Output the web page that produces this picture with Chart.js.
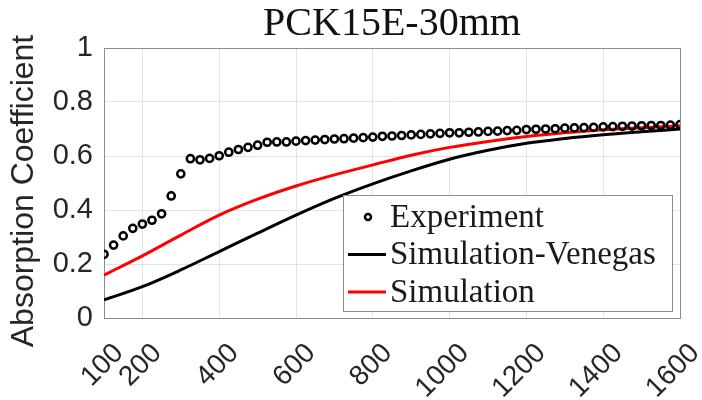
<!DOCTYPE html>
<html>
<head>
<meta charset="utf-8">
<script src="https://cdn.jsdelivr.net/npm/chart.js@4.4.0/dist/chart.umd.min.js"></script>
<style>
  html, body { margin: 0; padding: 0; background: #fff; }
  #wrap { width: 702px; height: 400px; }
</style>
</head>
<body>
<div id="wrap"><canvas id="abs-chart" width="702" height="400"></canvas></div>
<script>
// frequency (Hz) and absorption values
const freqExp = [100, 125, 150, 175, 200, 225, 250, 275, 300, 325, 350, 375, 400, 425, 450, 475,
  500, 525, 550, 575, 600, 625, 650, 675, 700, 725, 750, 775, 800, 825, 850, 875, 900, 925, 950, 975,
  1000, 1025, 1050, 1075, 1100, 1125, 1150, 1175, 1200, 1225, 1250, 1275, 1300, 1325, 1350, 1375,
  1400, 1425, 1450, 1475, 1500, 1525, 1550, 1575, 1600];
const absExp = [0.236, 0.270, 0.304, 0.332, 0.348, 0.362, 0.386, 0.452, 0.534, 0.590, 0.586, 0.591, 0.601, 0.614, 0.624, 0.632,
  0.640, 0.651, 0.652, 0.652, 0.655, 0.657, 0.659, 0.661, 0.663, 0.664, 0.666, 0.668, 0.670, 0.673, 0.674, 0.676, 0.678, 0.680, 0.682, 0.684,
  0.686, 0.686, 0.688, 0.689, 0.691, 0.692, 0.694, 0.695, 0.698, 0.699, 0.700, 0.701, 0.703, 0.704, 0.705, 0.706,
  0.708, 0.709, 0.710, 0.711, 0.712, 0.713, 0.713, 0.714, 0.716];

const freqSim = [100, 200, 300, 400, 500, 600, 700, 800, 900, 1000, 1100, 1200, 1300, 1400, 1500, 1600];
const absVenegas = [0.067, 0.116, 0.178, 0.246, 0.314, 0.381, 0.443, 0.497, 0.545, 0.588, 0.621, 0.647, 0.665, 0.679, 0.690, 0.700];
const absSim = [0.159, 0.230, 0.307, 0.381, 0.440, 0.489, 0.530, 0.567, 0.603, 0.632, 0.654, 0.672, 0.686, 0.697, 0.705, 0.712];

const xTicks = [100, 200, 400, 600, 800, 1000, 1200, 1400, 1600];
const yTicks = [0, 0.2, 0.4, 0.6, 0.8, 1];

const legendItems = [
  { label: 'Experiment', kind: 'circle', color: '#000' },
  { label: 'Simulation-Venegas', kind: 'line', color: '#000' },
  { label: 'Simulation', kind: 'line', color: '#ff0000' }
];
const yTitle = 'Absorption Coefficient';

function toPoints(xs, ys) {
  return xs.map(function (x, i) { return { x: x, y: ys[i] }; });
}

// axes box (top + right edges) like matlab
const boxPlugin = {
  id: 'axesBox',
  beforeDatasetsDraw: function (chart) {
    const a = chart.chartArea, ctx = chart.ctx;
    ctx.save();
    ctx.strokeStyle = '#8c8c8c';
    ctx.lineWidth = 1;
    ctx.strokeRect(a.left + 0.5, a.top + 0.5, a.right - a.left, a.bottom - a.top);
    ctx.restore();
  }
};

// y label sits a bit lower than the axes centre in the original
const yTitlePlugin = {
  id: 'yTitle',
  afterDraw: function (chart) {
    const a = chart.chartArea, ctx = chart.ctx;
    ctx.save();
    ctx.translate(24, (a.top + a.bottom) / 2 + 8);
    ctx.rotate(-Math.PI / 2);
    ctx.font = "32px 'Liberation Sans', Arial, sans-serif";
    ctx.fillStyle = '#262626';
    ctx.textAlign = 'center';
    ctx.textBaseline = 'middle';
    ctx.fillText(yTitle, 0, 0);
    ctx.restore();
  }
};

// legend inside the axes, lower right
const insideLegend = {
  id: 'insideLegend',
  afterDatasetsDraw: function (chart) {
    const a = chart.chartArea, ctx = chart.ctx;
    const w = 329, h = 116;
    const x0 = a.right - 8 - w, y0 = a.bottom - 7 - h;
    ctx.save();
    ctx.fillStyle = '#fff';
    ctx.fillRect(x0, y0, w, h);
    ctx.strokeStyle = '#8c8c8c';
    ctx.lineWidth = 1;
    ctx.strokeRect(x0 + 0.5, y0 + 0.5, w, h);
    ctx.font = "33px 'Liberation Serif', 'Times New Roman', serif";
    ctx.textBaseline = 'middle';
    ctx.fillStyle = '#1a1a1a';
    legendItems.forEach(function (it, i) {
      const cy = y0 + 22 + i * 37.5;
      if (it.kind === 'circle') {
        ctx.beginPath();
        ctx.arc(x0 + 25, cy, 3, 0, Math.PI * 2);
        ctx.strokeStyle = it.color;
        ctx.lineWidth = 2.5;
        ctx.stroke();
      } else {
        ctx.beginPath();
        ctx.moveTo(x0 + 5, cy);
        ctx.lineTo(x0 + 43, cy);
        ctx.strokeStyle = it.color;
        ctx.lineWidth = 3;
        ctx.stroke();
      }
      ctx.fillText(it.label, x0 + 47, cy + 1);
    });
    ctx.restore();
  }
};

document.addEventListener('DOMContentLoaded', function () {
  var ctx = document.getElementById('abs-chart').getContext('2d');
  var myChart = new Chart(ctx, {
    type: 'scatter',
    data: {
      datasets: [{
        label: 'Experiment',
        data: toPoints(freqExp, absExp),
        showLine: false,
        pointRadius: 3.6,
        pointBorderWidth: 2.5,
        pointBorderColor: '#000',
        pointBackgroundColor: 'rgba(0,0,0,0)',
        order: 0
      },
      {
        label: 'Simulation-Venegas',
        data: toPoints(freqSim, absVenegas),
        showLine: true,
        borderColor: '#000',
        borderWidth: 3,
        pointRadius: 0,
        cubicInterpolationMode: 'monotone',
        order: 2
      },
      {
        label: 'Simulation',
        data: toPoints(freqSim, absSim),
        showLine: true,
        borderColor: '#ff0000',
        borderWidth: 3,
        pointRadius: 0,
        cubicInterpolationMode: 'monotone',
        order: 1
      }]
    },
    options: {
      responsive: false,
      animation: false,
      layout: { padding: { left: 0, right: 0, top: 0, bottom: 0 } },
      scales: {
        x: {
          type: 'linear',
          min: 100,
          max: 1600,
          afterBuildTicks: function (scale) {
            scale.ticks = xTicks.map(function (v) { return { value: v }; });
          },
          afterFit: function (scale) {
            scale.height = 82;
            scale.paddingLeft = 0;
            scale.paddingRight = 22;
          },
          grid: { color: '#e3e3e3', drawTicks: false },
          border: { color: '#8c8c8c' },
          ticks: {
            minRotation: 45,
            maxRotation: 45,
            padding: 19,
            labelOffset: 15,
            color: '#262626',
            font: { family: "'Liberation Sans', Arial, sans-serif", size: 28 },
            callback: function (v) { return String(v); }
          }
        },
        y: {
          min: 0,
          max: 1,
          afterBuildTicks: function (scale) {
            scale.ticks = yTicks.map(function (v) { return { value: v }; });
          },
          afterFit: function (scale) { scale.width = 104; },
          grid: { color: '#e3e3e3', drawTicks: false },
          border: { color: '#8c8c8c' },
          ticks: {
            padding: 11,
            color: '#262626',
            font: { family: "'Liberation Sans', Arial, sans-serif", size: 29 },
            callback: function (v) { return String(Math.round(v * 10) / 10); }
          }
        }
      },
      plugins: {
        title: {
          display: true,
          text: 'PCK15E-30mm',
          fullSize: false,
          color: '#111',
          padding: { top: 0, bottom: 0 },
          font: { family: "'Liberation Serif', 'Times New Roman', serif", size: 40, weight: 'normal' }
        },
        legend: { display: false },
        tooltip: { enabled: false }
      }
    },
    plugins: [boxPlugin, insideLegend, yTitlePlugin]
  });
});
</script>
</body>
</html>
